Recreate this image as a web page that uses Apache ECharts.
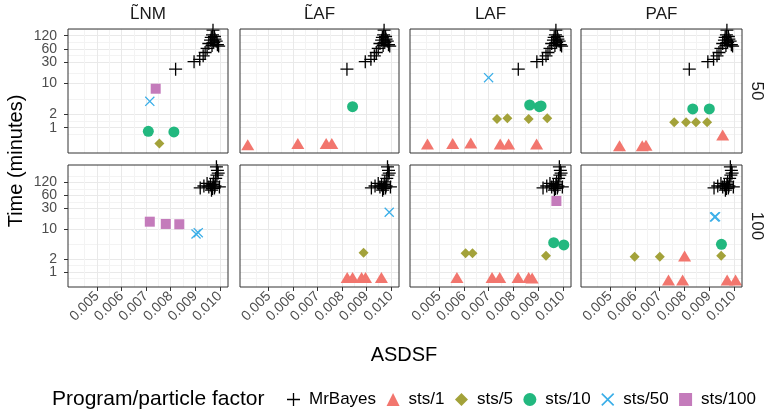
<!DOCTYPE html>
<html><head><meta charset="utf-8">
<script src="https://cdn.jsdelivr.net/npm/echarts@6/dist/echarts.min.js"></script>
<style>html,body{margin:0;padding:0;background:#fff}#c{width:766px;height:411px}</style>
</head><body><div id="c"></div>
<script>
// ---------- data ----------
const methods = ['L\u0303NM', 'L\u0303AF', 'LAF', 'PAF'];
const particleCounts = [50, 100];
const groups = ['MrBayes', 'sts/1', 'sts/5', 'sts/10', 'sts/50', 'sts/100'];
const xTicks = [0.005, 0.006, 0.007, 0.008, 0.009, 0.010];
const yTicks = [1, 2, 10, 30, 60, 120];

// MrBayes runs (same in every method column) [ASDSF, minutes]
const mrBayes50 = [[0.00820,21],[0.00895,31],[0.00918,35],[0.00932,42],[0.00940,50],[0.00948,62],
  [0.00955,80],[0.00962,95],[0.00965,110],[0.00970,125],[0.00972,160],[0.00975,85],[0.00980,100],
  [0.00985,90],[0.00990,75],[0.00995,70],[0.00968,72],[0.00978,115]];
const mrBayes100 = [[0.00920,90],[0.00935,100],[0.00948,115],[0.00955,95],[0.00962,105],[0.00966,80],
  [0.00972,110],[0.00975,125],[0.00978,90],[0.00980,100],[0.00983,150],[0.00986,280],[0.00990,230],
  [0.00988,180],[0.00993,200],[0.00998,95],[0.00970,88]];

// [method, particles, ASDSF, minutes]
const sts1 = [
  ['L\u0303AF',50,0.00414,0.41],['L\u0303AF',50,0.00619,0.44],['L\u0303AF',50,0.00735,0.44],['L\u0303AF',50,0.00758,0.44],
  ['LAF',50,0.00453,0.43],['LAF',50,0.00555,0.44],['LAF',50,0.00628,0.45],['LAF',50,0.00747,0.43],['LAF',50,0.00781,0.43],['LAF',50,0.00894,0.43],
  ['PAF',50,0.00538,0.39],['PAF',50,0.00630,0.39],['PAF',50,0.00645,0.40],['PAF',50,0.00955,0.68],
  ['L\u0303AF',100,0.00821,0.75],['L\u0303AF',100,0.00843,0.75],['L\u0303AF',100,0.00880,0.75],['L\u0303AF',100,0.00896,0.75],['L\u0303AF',100,0.00961,0.75],
  ['LAF',100,0.00572,0.75],['LAF',100,0.00714,0.75],['LAF',100,0.00745,0.75],['LAF',100,0.00819,0.75],['LAF',100,0.00862,0.75],['LAF',100,0.00876,0.73],
  ['PAF',100,0.00801,2.36],['PAF',100,0.00736,0.65],['PAF',100,0.00793,0.65],['PAF',100,0.00973,0.65],['PAF',100,0.01007,0.65]
];
const sts5 = [
  ['L\u0303NM',50,0.00754,0.44],
  ['LAF',50,0.00734,1.57],['LAF',50,0.00776,1.63],['LAF',50,0.00862,1.57],['LAF',50,0.00937,1.63],
  ['PAF',50,0.00759,1.32],['PAF',50,0.00807,1.32],['PAF',50,0.00847,1.32],['PAF',50,0.00892,1.32],
  ['L\u0303AF',100,0.00888,2.81],
  ['LAF',100,0.00607,2.72],['LAF',100,0.00635,2.72],['LAF',100,0.00932,2.39],
  ['PAF',100,0.00599,2.27],['PAF',100,0.00701,2.27],['PAF',100,0.00949,2.40]
];
const sts10 = [
  ['L\u0303NM',50,0.00709,0.83],['L\u0303NM',50,0.00813,0.80],
  ['L\u0303AF',50,0.00843,2.98],
  ['LAF',50,0.00866,3.26],['LAF',50,0.00905,2.98],['LAF',50,0.00912,3.10],
  ['PAF',50,0.00834,2.65],['PAF',50,0.00901,2.65],
  ['LAF',100,0.00963,4.80],['LAF',100,0.01004,4.25],
  ['PAF',100,0.00950,4.40]
];
const sts50 = [
  ['L\u0303NM',50,0.00715,3.95],
  ['LAF',50,0.00700,13.5],
  ['L\u0303NM',100,0.00903,7.65],['L\u0303NM',100,0.00912,8.2],
  ['L\u0303AF',100,0.00993,24.5],
  ['PAF',100,0.00926,19.4],['PAF',100,0.00922,19.0]
];
const sts100 = [
  ['L\u0303NM',50,0.00739,7.6],
  ['L\u0303NM',100,0.00715,14.8],['L\u0303NM',100,0.00780,13.1],['L\u0303NM',100,0.00835,12.9],
  ['LAF',100,0.00974,44.8]
];

// ---------- styling / layout ----------
const groupData = [null, sts1, sts5, sts10, sts50, sts100];
const groupColors = ['#000000', '#F2766E', '#A3A23A', '#22B87F', '#3AAEE8', '#C47BBB'];
const PLUS = 'path://M4.5,0H5.5V4.5H10V5.5H5.5V10H4.5V5.5H0V4.5H4.5Z';
const CROSS = 'path://M0,0.9L0.9,0L5,4.1L9.1,0L10,0.9L5.9,5L10,9.1L9.1,10L5,5.9L0.9,10L0,9.1L4.1,5Z';
const groupSymbols = [PLUS, 'triangle', 'diamond', 'circle', CROSS, 'rect'];
const groupSizes = [13, [13, 11], 10, 11, 10, 10];

const colLeft = [68, 240, 410, 581];
const colWidth = [160, 159, 161, 161];
const rowTop = [29, 165];
const rowHeight = [124, 122];
const xRange = [0.003824, 0.01033];
const yRange = [[0.268, 170], [0.448, 308]];

function minorBreaks(b, t, inv) {
  const tb = b.map(t);
  const bd = tb[1] - tb[0];
  const ext = [tb[0] - bd].concat(tb, [tb[tb.length - 1] + bd]);
  const out = [];
  for (let i = 0; i < ext.length - 1; i++) out.push(inv((ext[i] + ext[i + 1]) / 2));
  return out;
}
const xMinor = minorBreaks(xTicks, v => v, v => v);
const yMinor = minorBreaks(yTicks, v => Math.log10(v), v => Math.pow(10, v));
// labels split over two stacked axes so close labels are not auto-hidden
const yLabelsA = yTicks.filter((v, i) => i % 2 === 0);
const yLabelsB = yTicks.filter((v, i) => i % 2 === 1);

const majorLine = { color: '#e9e9e9', width: 1 };
const minorLine = { color: '#f3f3f3', width: 1 };
const font = 'Liberation Sans, Arial, sans-serif';
const yLabelStyle = { fontSize: 14, color: '#4d4d4d', margin: 11, hideOverlap: false, showMinLabel: true,
  showMaxLabel: true, interval: 0, fontFamily: font, formatter: v => String(Math.round(v)) };

const grids = [], xAxes = [], yAxes = [], series = [];
for (let r = 0; r < 2; r++) {
  for (let c = 0; c < 4; c++) {
    const gi = r * 4 + c;
    grids.push({ left: colLeft[c], top: rowTop[r], width: colWidth[c], height: rowHeight[r],
      show: true, borderColor: '#333333', borderWidth: 1, backgroundColor: 'transparent', z: 5 });
    xAxes.push({ gridIndex: gi, type: 'value', min: xRange[0], max: xRange[1], position: 'bottom',
      axisLine: { show: false },
      axisTick: { show: r === 1, customValues: xTicks, length: 4, lineStyle: { color: '#333333' } },
      axisLabel: { show: r === 1, customValues: xTicks, rotate: 45, fontSize: 14, color: '#4d4d4d', margin: 7,
        hideOverlap: false, showMinLabel: true, showMaxLabel: true, interval: 0,
        fontFamily: font, formatter: v => Number(v).toFixed(3) },
      splitLine: { show: true, lineStyle: majorLine } });
    xAxes.push({ gridIndex: gi, type: 'value', min: xRange[0], max: xRange[1], position: 'bottom',
      axisLine: { show: false }, axisTick: { show: false, customValues: xMinor },
      axisLabel: { show: false, customValues: xMinor }, splitLine: { show: true, lineStyle: minorLine } });
    yAxes.push({ gridIndex: gi, type: 'log', logBase: 10, min: yRange[r][0], max: yRange[r][1], position: 'left',
      axisLine: { show: false },
      axisTick: { show: c === 0, customValues: yTicks, length: 4, lineStyle: { color: '#333333' } },
      axisLabel: Object.assign({ show: c === 0, customValues: yLabelsA }, yLabelStyle),
      splitLine: { show: true, lineStyle: majorLine } });
    yAxes.push({ gridIndex: gi, type: 'log', logBase: 10, min: yRange[r][0], max: yRange[r][1], position: 'left', offset: 0,
      axisLine: { show: false }, axisTick: { show: false, customValues: yMinor },
      axisLabel: Object.assign({ show: c === 0, customValues: yLabelsB }, yLabelStyle),
      splitLine: { show: true, lineStyle: minorLine } });

    groups.forEach((g, k) => {
      let data;
      if (k === 0) data = r === 0 ? mrBayes50 : mrBayes100;
      else data = groupData[k].filter(d => d[0] === methods[c] && d[1] === particleCounts[r]).map(d => [d[2], d[3]]);
      series.push({ type: 'scatter', name: g, xAxisIndex: 2 * gi, yAxisIndex: 2 * gi, data: data,
        symbol: groupSymbols[k], symbolSize: groupSizes[k], silent: true,
        itemStyle: { color: groupColors[k], opacity: 1 }, z: 3 });
    });
  }
}

const graphics = [];
methods.forEach((m, c) => {
  graphics.push({ type: 'text', x: colLeft[c] + colWidth[c] / 2, y: 14,
    style: { text: m, fontSize: 17, fontFamily: font, fill: '#1a1a1a', textAlign: 'center', textVerticalAlign: 'middle' } });
});
particleCounts.forEach((p, r) => {
  graphics.push({ type: 'text', x: 757, y: rowTop[r] + rowHeight[r] / 2, rotation: -Math.PI / 2,
    style: { text: String(p), fontSize: 17, fontFamily: font, fill: '#1a1a1a', textAlign: 'center', textVerticalAlign: 'middle' } });
});
graphics.push({ type: 'text', x: 16, y: 161, rotation: Math.PI / 2,
  style: { text: 'Time (minutes)', fontSize: 20, fontFamily: font, fill: '#000', textAlign: 'center', textVerticalAlign: 'middle' } });
graphics.push({ type: 'text', x: 404, y: 355,
  style: { text: 'ASDSF', fontSize: 20, fontFamily: font, fill: '#000', textAlign: 'center', textVerticalAlign: 'middle' } });
graphics.push({ type: 'text', x: 52, y: 399,
  style: { text: 'Program/particle factor', fontSize: 21, fontFamily: font, fill: '#000', textAlign: 'left', textVerticalAlign: 'middle' } });

const chart = echarts.init(document.getElementById('c'), null, { renderer: 'canvas', width: 766, height: 411 });
chart.setOption({
  animation: false,
  backgroundColor: '#ffffff',
  grid: grids, xAxis: xAxes, yAxis: yAxes, series: series,
  legend: { left: 287, top: 391, orient: 'horizontal', padding: 0, itemWidth: 13, itemHeight: 13, itemGap: 10.5,
    textStyle: { fontSize: 17, fontFamily: font, color: '#000', padding: [0, 0, 0, 4] },
    data: groups.map((g, k) => ({ name: g, icon: groupSymbols[k] })) },
  graphic: graphics
});
</script></body></html>
